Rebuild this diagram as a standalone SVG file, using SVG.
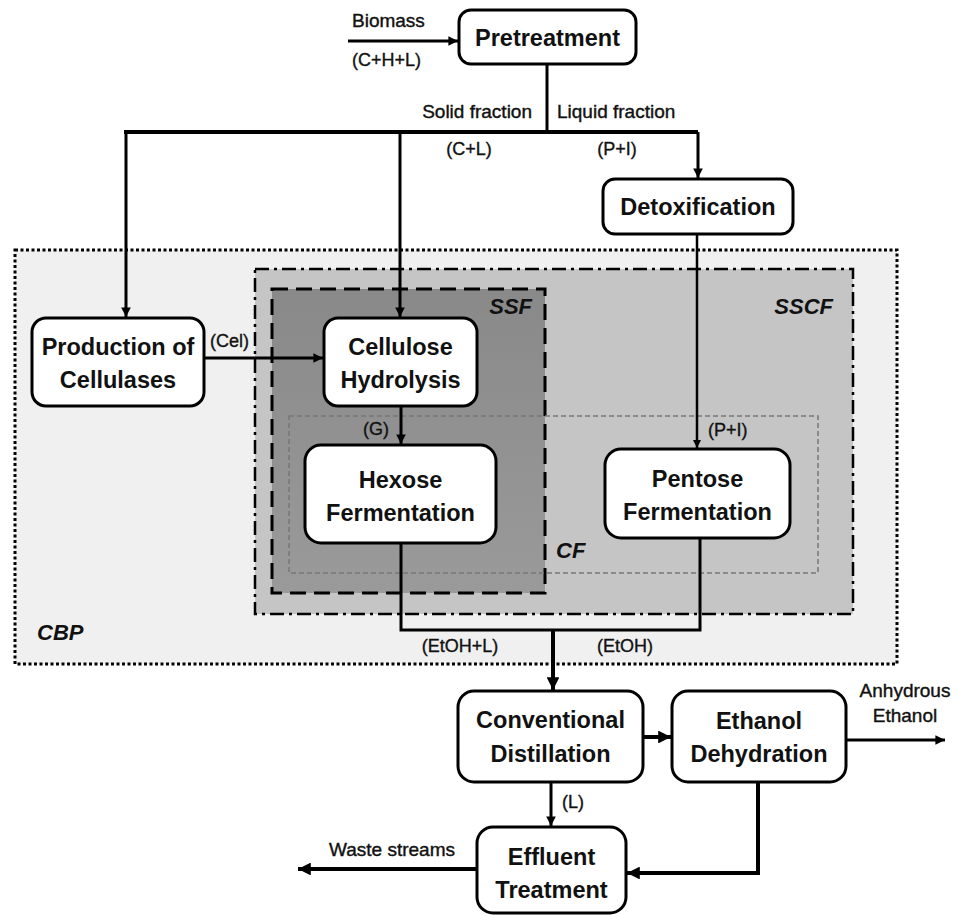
<svg xmlns="http://www.w3.org/2000/svg" width="960" height="915" viewBox="0 0 960 915">
<style>
.node rect{fill:#fff;stroke:#000;stroke-width:3}
.nt{font-family:"Liberation Sans",Arial,sans-serif;font-weight:bold;font-size:23.5px;text-anchor:middle;fill:#111}
.lb{font-family:"Liberation Sans",Arial,sans-serif;font-size:18px;fill:#111;stroke:#111;stroke-width:0.35}
.lw{font-family:"Liberation Sans",Arial,sans-serif;font-size:19px;fill:#111;stroke:#111;stroke-width:0.4}
.gl{font-family:"Liberation Sans",Arial,sans-serif;font-size:22px;font-weight:bold;font-style:italic;fill:#111}
.c{fill:none;stroke:#000;stroke-width:3}
.ca{fill:none;stroke:#000;stroke-width:3;marker-end:url(#ah)}
</style>
<defs>
<marker id="ah" viewBox="0 0 10 10" refX="10" refY="5" markerWidth="3.2" markerHeight="3.2" markerUnits="strokeWidth" orient="auto">
<path d="M0,0 L10,5 L0,10 z" fill="#000"/>
</marker>
<linearGradient id="ssfg" x1="0" y1="0" x2="0" y2="1">
<stop offset="0" stop-color="#898989"/>
<stop offset="1" stop-color="#9a9a9a"/>
</linearGradient>
</defs>
<rect width="960" height="915" fill="#fff"/>
<g id="groups">
<rect id="CBP" x="15" y="250" width="882" height="414" fill="#f0f0f0" stroke="#000" stroke-width="3" stroke-dasharray="3 2.5"/>
<rect id="SSCF" x="255" y="269" width="598" height="345" fill="#c5c5c5" stroke="#000" stroke-width="2.5" stroke-dasharray="14 5 3 5"/>
<rect id="SSF" x="272" y="289" width="273" height="304" fill="url(#ssfg)" stroke="#000" stroke-width="3" stroke-dasharray="16 8"/>
<rect id="CF" x="289" y="416" width="529" height="157" fill="none" stroke="#777" stroke-width="1.5" stroke-dasharray="5 3"/>
<text class="gl" x="532" y="314" text-anchor="end">SSF</text>
<text class="gl" x="833" y="314" text-anchor="end">SSCF</text>
<text class="gl" x="556" y="558">CF</text>
<text class="gl" x="37" y="640">CBP</text>
</g>
<g id="connectors">
<path class="ca" d="M348,41 H458"/>
<path class="c" d="M547,64 V132" />
<path class="c" d="M124,132 H698" style="stroke-width:4"/>
<path class="ca" d="M126,132 V317"/>
<path class="ca" d="M400,132 V317"/>
<path class="ca" d="M698,132 V178"/>
<path class="ca" d="M697,234 V448" style="stroke-width:2.5"/>
<path class="ca" d="M204,358 H323"/>
<path class="ca" d="M401,406 V444"/>
<path class="c" d="M401,543 V630 H700 V538"/>
<path class="ca" d="M553,630 V690" style="stroke-width:4"/>
<path class="ca" d="M643,737 H671" style="stroke-width:4"/>
<path class="ca" d="M846,740 H945"/>
<path class="ca" d="M551,782 V826"/>
<path class="ca" d="M477,869 H298" style="stroke-width:4"/>
<path class="ca" d="M758,782 V873 H627" style="stroke-width:4"/>
</g>
<g id="labels">
<text class="lw" x="352" y="27">Biomass</text>
<text class="lb" x="352" y="66">(C+H+L)</text>
<text class="lw" x="532" y="118" text-anchor="end">Solid fraction</text>
<text class="lw" x="557" y="118">Liquid fraction</text>
<text class="lb" x="469" y="155" text-anchor="middle">(C+L)</text>
<text class="lb" x="617" y="155" text-anchor="middle">(P+I)</text>
<text class="lb" x="210" y="347">(Cel)</text>
<text class="lb" x="376" y="435" text-anchor="middle">(G)</text>
<text class="lb" x="708" y="436">(P+I)</text>
<text class="lb" x="460" y="652" text-anchor="middle">(EtOH+L)</text>
<text class="lb" x="625" y="652" text-anchor="middle">(EtOH)</text>
<text class="lb" x="562" y="808">(L)</text>
<text class="lw" x="329" y="856">Waste streams</text>
<text class="lw" x="905" y="697" text-anchor="middle">Anhydrous</text>
<text class="lw" x="905" y="722" text-anchor="middle">Ethanol</text>
</g>
<g id="pretreatment" class="node"><rect x="459" y="10" width="177" height="54" rx="12"/><text class="nt" x="547.5" y="46">Pretreatment</text></g>
<g id="detoxification" class="node"><rect x="603" y="179" width="190" height="55" rx="12"/><text class="nt" x="698" y="215">Detoxification</text></g>
<g id="production" class="node"><rect x="32" y="318" width="172" height="88" rx="14"/><text class="nt" x="118" y="355">Production of</text><text class="nt" x="118" y="388">Cellulases</text></g>
<g id="cellulose" class="node"><rect x="324" y="318" width="153" height="88" rx="14"/><text class="nt" x="400.5" y="355">Cellulose</text><text class="nt" x="400.5" y="388">Hydrolysis</text></g>
<g id="hexose" class="node"><rect x="305" y="445" width="191" height="98" rx="16"/><text class="nt" x="400.5" y="488">Hexose</text><text class="nt" x="400.5" y="521">Fermentation</text></g>
<g id="pentose" class="node"><rect x="605" y="449" width="185" height="89" rx="16"/><text class="nt" x="697.5" y="487">Pentose</text><text class="nt" x="697.5" y="520">Fermentation</text></g>
<g id="distillation" class="node"><rect x="458" y="691" width="185" height="91" rx="16"/><text class="nt" x="550.5" y="728">Conventional</text><text class="nt" x="550.5" y="762">Distillation</text></g>
<g id="dehydration" class="node"><rect x="672" y="691" width="174" height="91" rx="16"/><text class="nt" x="759" y="729">Ethanol</text><text class="nt" x="759" y="762">Dehydration</text></g>
<g id="effluent" class="node"><rect x="477" y="827" width="149" height="86" rx="16"/><text class="nt" x="551.5" y="865">Effluent</text><text class="nt" x="551.5" y="898">Treatment</text></g>
</svg>
